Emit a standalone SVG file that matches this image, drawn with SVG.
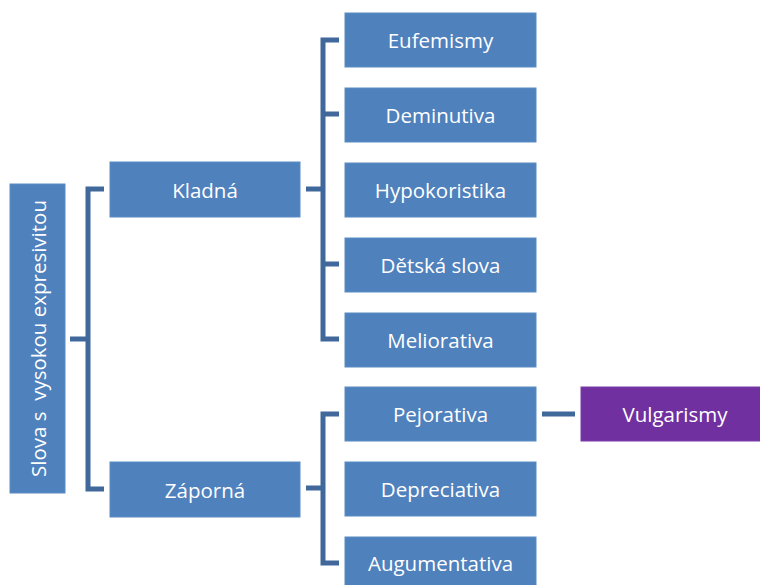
<svg xmlns="http://www.w3.org/2000/svg" width="760" height="585" viewBox="0 0 760 585">
<style>
.box{fill:#4F81BD;stroke:#5B8BC4;stroke-width:1}
.vul{fill:#7030A0;stroke:#7A3BAA;stroke-width:1}
.t{font-family:"Open Sans","Liberation Sans",sans-serif;font-size:20.5px;fill:#FFFFFF;text-anchor:middle;dominant-baseline:central}
.c{fill:none;stroke:#41689A;stroke-width:5}
</style>
<rect width="760" height="585" fill="#FFFFFF"/>
<g id="connectors">
<path class="c" d="M70,339 H88 M104,189 H88 V489 H104"/>
<path class="c" d="M306,189 H323 M339,40 H323 V339 H339 M323,114 H339 M323,264 H339"/>
<path class="c" d="M306,488 H323 M339,414 H323 V563 H339"/>
<path class="c" d="M542,414 H575"/>
</g>
<g id="root"><rect class="box" x="10" y="184" width="55" height="309"/><text class="t" transform="translate(37.5,338.5) rotate(-90)" x="0" y="0" xml:space="preserve">Slova s  vysokou expresivitou</text></g>
<g id="kladna"><rect class="box" x="110" y="162" width="190" height="55"/><text class="t" x="205" y="189.5">Kladná</text></g>
<g id="zaporna"><rect class="box" x="110" y="462" width="190" height="55"/><text class="t" x="205" y="489.5">Záporná</text></g>
<g id="eufemismy"><rect class="box" x="345" y="13" width="191" height="54"/><text class="t" x="440.5" y="40">Eufemismy</text></g>
<g id="deminutiva"><rect class="box" x="345" y="88" width="191" height="54"/><text class="t" x="440.5" y="115">Deminutiva</text></g>
<g id="hypokoristika"><rect class="box" x="345" y="163" width="191" height="54"/><text class="t" x="440.5" y="190">Hypokoristika</text></g>
<g id="detska"><rect class="box" x="345" y="238" width="191" height="54"/><text class="t" x="440.5" y="265">Dětská slova</text></g>
<g id="meliorativa"><rect class="box" x="345" y="313" width="191" height="54"/><text class="t" x="440.5" y="340">Meliorativa</text></g>
<g id="pejorativa"><rect class="box" x="345" y="387" width="191" height="54"/><text class="t" x="440.5" y="414">Pejorativa</text></g>
<g id="depreciativa"><rect class="box" x="345" y="462" width="191" height="54"/><text class="t" x="440.5" y="489">Depreciativa</text></g>
<g id="augumentativa"><rect class="box" x="345" y="537" width="191" height="54"/><text class="t" x="440.5" y="563">Augumentativa</text></g>
<g id="vulgarismy"><rect class="vul" x="581" y="387" width="185" height="54"/><text class="t" x="675" y="414">Vulgarismy</text></g>
</svg>
